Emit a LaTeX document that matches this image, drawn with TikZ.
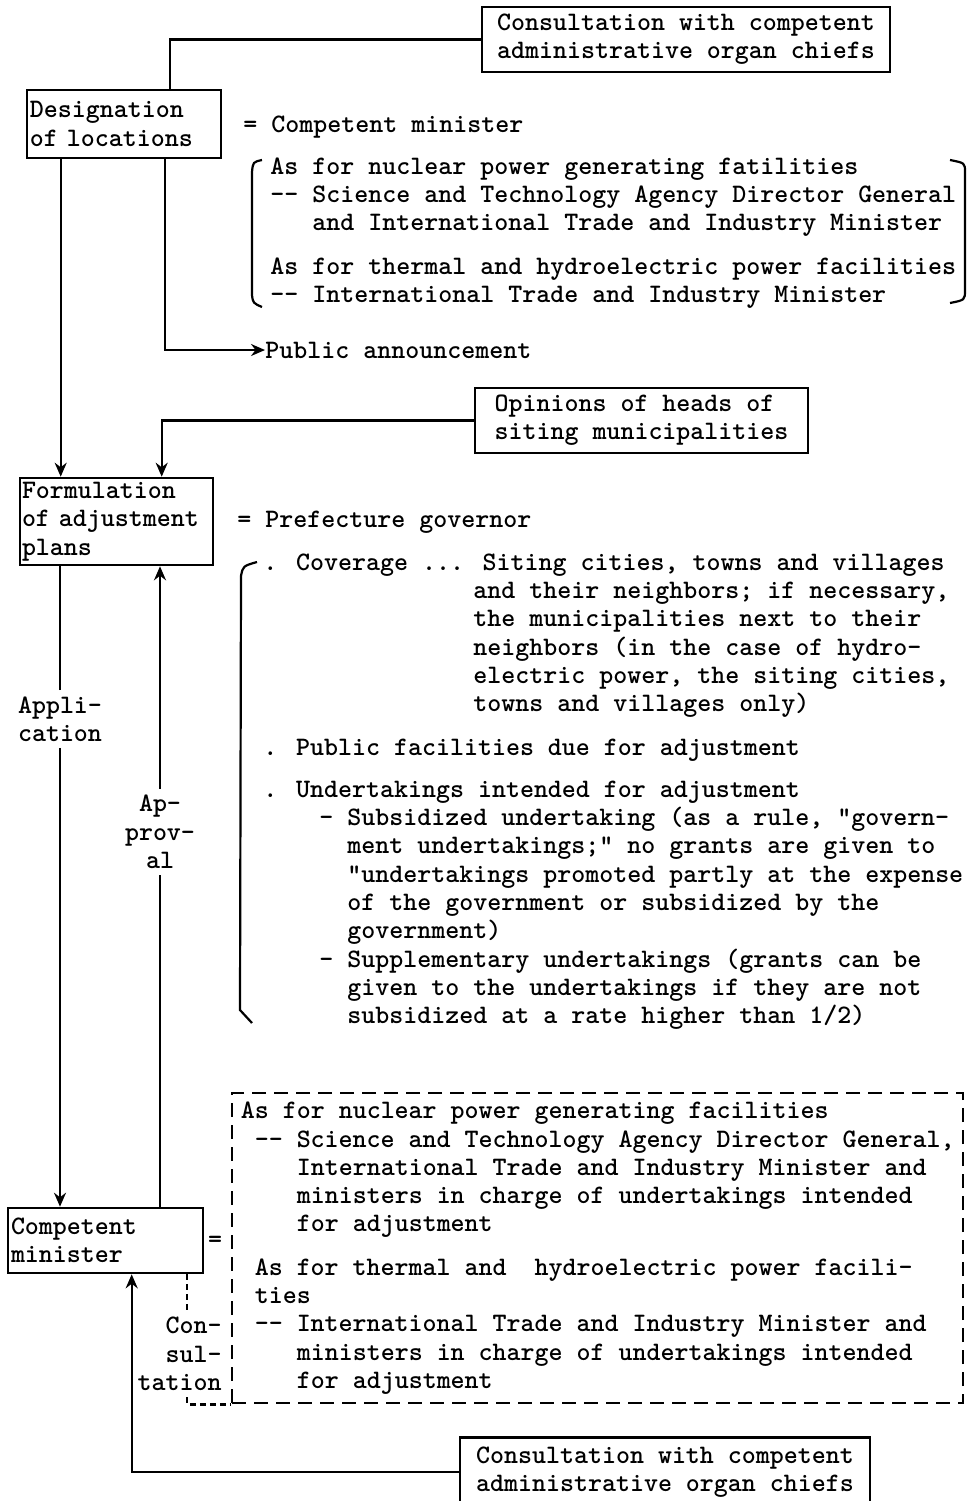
\documentclass[tikz,border=0pt]{standalone}
\usetikzlibrary{arrows.meta,positioning}
\newcommand\twfont{\ttfamily\bfseries\fontsize{13.33pt}{14.15pt}\selectfont}
\newlength\chr \setlength\chr{7pt}
\newcommand\indt[1]{\hspace*{#1\chr}}
\begin{document}
\begin{tikzpicture}[x=0.5pt,y=-0.5pt,
  every node/.style={font=\twfont},
  box/.style={draw,line width=1.3pt,align=left,inner sep=1.5pt},
  txt/.style={inner sep=0pt,align=left},
  conn/.style={line width=1.1pt},
  arr/.style={line width=1.1pt,-{Stealth[length=7pt,width=6pt]}},
  dbx/.style={draw,line width=1.2pt,dash pattern=on 7pt off 4pt}]
\useasboundingbox (0,0) rectangle (974,1501);

% boxes
\node[box,minimum width=204pt,minimum height=32.5pt] (conA) at (686,39.5) {Consultation with competent\\administrative organ chiefs};
\node[box,text width=94pt,minimum height=34pt] (desig) at (124,124) {Designation\\of locations};
\node[box,minimum width=166.5pt,minimum height=32.5pt] (opin) at (641.5,420.5) {Opinions of heads of\\siting municipalities};
\node[box,text width=94.5pt,inner xsep=1pt,minimum height=43.5pt] (formul) at (116.5,521.5) {Formulation\\of adjustment\\plans};
\node[box,text width=94.5pt,minimum height=32.5pt] (compet) at (105.5,1240.5) {Competent\\minister};
\node[box,anchor=north,minimum width=205pt,minimum height=35pt] (conB) at (665,1436) {Consultation with competent\\administrative organ chiefs};

% texts beside the boxes
\node[txt,anchor=west] (eqA) at (243,127) {= Competent minister};
\node[txt,anchor=north west] (nuctxt) at (270,154) {\strut As for nuclear power generating fatilities\\
-{}- Science and Technology Agency Director General\\
\indt{3}and International Trade and Industry Minister\\[7.5pt]
As for thermal and hydroelectric power facilities\\
-{}- International Trade and Industry Minister};
\node[txt,anchor=west] (pubann) at (265,350) {Public announcement};
\node[txt,anchor=west] (eqB) at (237,522) {= Prefecture governor};
\node[txt,anchor=north west] (govtxt) at (263,550) {\strut. Coverage ... Siting cities, towns and villages\\
\indt{15}and their neighbors; if necessary,\\
\indt{15}the municipalities next to their\\
\indt{15}neighbors (in the case of hydro-\\
\indt{15}electric power, the siting cities,\\
\indt{15}towns and villages only)\\[7.5pt]
. Public facilities due for adjustment\\[7pt]
. Undertakings intended for adjustment\\
\indt{4}- Subsidized undertaking (as a rule, "govern-\\
\indt{6}ment undertakings;" no grants are given to\\
\indt{6}"undertakings promoted partly at the expense\\
\indt{6}of the government or subsidized by the\\
\indt{6}government)\\
\indt{4}- Supplementary undertakings (grants can be\\
\indt{6}given to the undertakings if they are not\\
\indt{6}subsidized at a rate higher than 1/2)};
\node[txt,align=center,inner ysep=3pt] (appl) at (60,719) {Appli-\\cation};
\node[txt,align=center,inner ysep=3pt] (appr) at (160,832) {Ap-\\prov-\\al};
\node[txt] (eqC) at (215,1242) {=};
\node[txt,align=right,anchor=east,inner ysep=3pt] (consl) at (222,1354) {Con-\\sul-\\tation};
\node[dbx,txt,anchor=north west,minimum width=365.5pt,minimum height=155pt] (dbox) at (231,1092) {As for nuclear power generating facilities\\
\indt{1}-{}- Science and Technology Agency Director General,\\
\indt{4}International Trade and Industry Minister and\\
\indt{4}ministers in charge of undertakings intended\\
\indt{4}for adjustment\\[7.5pt]
\indt{1}As for thermal and\ \ hydroelectric power facili-\\
\indt{1}ties\\
\indt{1}-{}- International Trade and Industry Minister and\\
\indt{4}ministers in charge of undertakings intended\\
\indt{4}for adjustment};

% connectors
\draw[conn] (conA.west) -| ([xshift=23pt]desig.north);
\draw[arr] ([xshift=17.5pt]desig.south west) -- ([xshift=17.5pt]desig.south west |- formul.north);
\draw[arr] ([xshift=69.5pt]desig.south west) |- (pubann.west);
\draw[arr] (opin.west) -| ([xshift=71.5pt]formul.north west);
\draw[conn] (appl.north) -- (appl.north |- formul.south);
\draw[arr] (appl.south) -- (appl.south |- compet.north);
\draw[arr] (appr.north) -- (appr.north |- formul.south);
\draw[conn] (appr.south) -- (appr.south |- compet.north);
\draw[arr] (conB.west) -| ([xshift=62.5pt]compet.south west);
\coordinate (cq) at ([xshift=-8.5pt]compet.south east);
\draw[conn,dash pattern=on 3pt off 2pt] (cq) -- (cq |- consl.north);
\draw[conn,dash pattern=on 3pt off 2pt] (cq |- consl.south) |- (dbox.south west);

% brackets
\draw[conn] (262,160) .. controls (253,162) .. (252,172) -- (252,295) .. controls (253,303) .. (262,307);
\draw[conn] (950,160) .. controls (965,163) .. (965,172) -- (965,290) .. controls (965,300) .. (950,303);
\draw[conn] (257,562) .. controls (243,566) .. (241,576) -- (240,1010) -- (252,1023);
\end{tikzpicture}
\end{document}
